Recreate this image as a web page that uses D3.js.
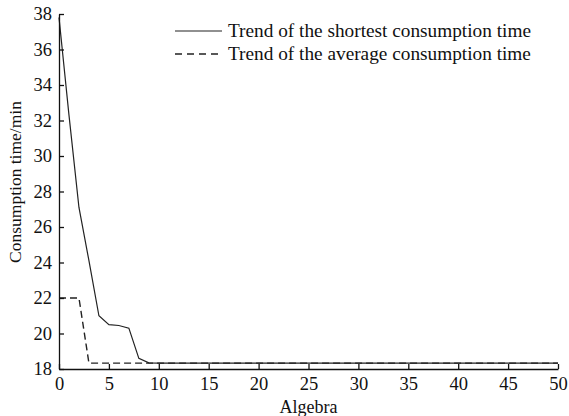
<!DOCTYPE html>
<html>
<head>
<meta charset="utf-8">
<script src="https://cdn.jsdelivr.net/npm/d3@7"></script>
<style>
  body { margin: 0; background: #fff; }
  text { font-family: "Liberation Serif", "Times New Roman", serif; }
</style>
</head>
<body>
<div id="wrapper"></div>
<script>
// data
const algebra = [0, 1, 2, 3, 4, 5, 6, 7, 8, 9, 10, 15, 20, 25, 30, 35, 40, 45, 50]
const shortest = [37.8, 32.3, 27.1, 24.1, 21.0, 20.5, 20.45, 20.3, 18.6, 18.35, 18.33, 18.33, 18.33, 18.33, 18.33, 18.33, 18.33, 18.33, 18.33]
const average = [22, 22, 22, 18.33, 18.33, 18.33, 18.33, 18.33, 18.33, 18.33, 18.33, 18.33, 18.33, 18.33, 18.33, 18.33, 18.33, 18.33, 18.33]
const xTicks = [0, 5, 10, 15, 20, 25, 30, 35, 40, 45, 50]
const yTicks = [18, 20, 22, 24, 26, 28, 30, 32, 34, 36, 38]
const legendLabels = ['Trend of the shortest consumption time', 'Trend of the average consumption time']

const dms = {
    width: 569,
    height: 416,
    margins: { top: 14, right: 11, bottom: 47, left: 59 }
}
dms.boundedWidth = dms.width - dms.margins.left - dms.margins.right
dms.boundedHeight = dms.height - dms.margins.top - dms.margins.bottom

const svg = d3.select('#wrapper')
    .append('svg')
        .attr('width', dms.width)
        .attr('height', dms.height)

const bounds = svg.append('g')
    .attr('transform', `translate(${dms.margins.left},${dms.margins.top})`)

const xScale = d3.scaleLinear().domain([0, 50]).range([0, dms.boundedWidth])
const yScale = d3.scaleLinear().domain([18, 38]).range([dms.boundedHeight, 0])

// lines
const lineGen = (vals) => d3.line()
    .x((d, i) => xScale(algebra[i]))
    .y(d => yScale(d))(vals)

bounds.append('path')
    .attr('d', lineGen(average))
    .attr('fill', 'none')
    .attr('stroke', '#222')
    .attr('stroke-width', 1.4)
    .attr('stroke-dasharray', '7,4')

bounds.append('path')
    .attr('d', lineGen(shortest))
    .attr('fill', 'none')
    .attr('stroke', '#222')
    .attr('stroke-width', 1.2)

// axes
const xAxis = bounds.append('g')
    .attr('transform', `translate(0,${dms.boundedHeight})`)
    .call(d3.axisBottom(xScale).tickValues(xTicks).tickSizeInner(-5).tickSizeOuter(0).tickPadding(8))
const yAxis = bounds.append('g')
    .call(d3.axisLeft(yScale).tickValues(yTicks).tickSizeInner(-5).tickSizeOuter(0).tickPadding(7))

bounds.selectAll('.domain, .tick line').attr('stroke', '#111').attr('stroke-width', 1.3)
bounds.selectAll('.tick text')
    .attr('fill', '#111')
    .style('font-size', '18.5px')
    .style('font-family', '"Liberation Serif", serif')

svg.append('text')
    .attr('x', dms.margins.left + dms.boundedWidth / 2)
    .attr('y', 413)
    .attr('text-anchor', 'middle')
    .style('font-size', '18px')
    .attr('fill', '#111')
    .text('Algebra')

svg.append('text')
    .attr('transform', `translate(21,${182}) rotate(-90)`)
    .attr('text-anchor', 'middle')
    .style('font-size', '17.5px')
    .attr('fill', '#111')
    .text('Consumption time/min')

// legend
const legend = svg.append('g')
legendLabels.forEach((label, i) => {
    const y = 31 + i * 23
    legend.append('line')
        .attr('x1', 175).attr('x2', 222)
        .attr('y1', y).attr('y2', y)
        .attr('stroke', '#222')
        .attr('stroke-width', i === 0 ? 1.2 : 1.4)
        .attr('stroke-dasharray', i === 0 ? null : '7,5')
    legend.append('text')
        .attr('x', 228)
        .attr('y', y + 6)
        .style('font-size', '19.3px')
        .attr('fill', '#111')
        .text(label)
})
</script>
</body>
</html>
